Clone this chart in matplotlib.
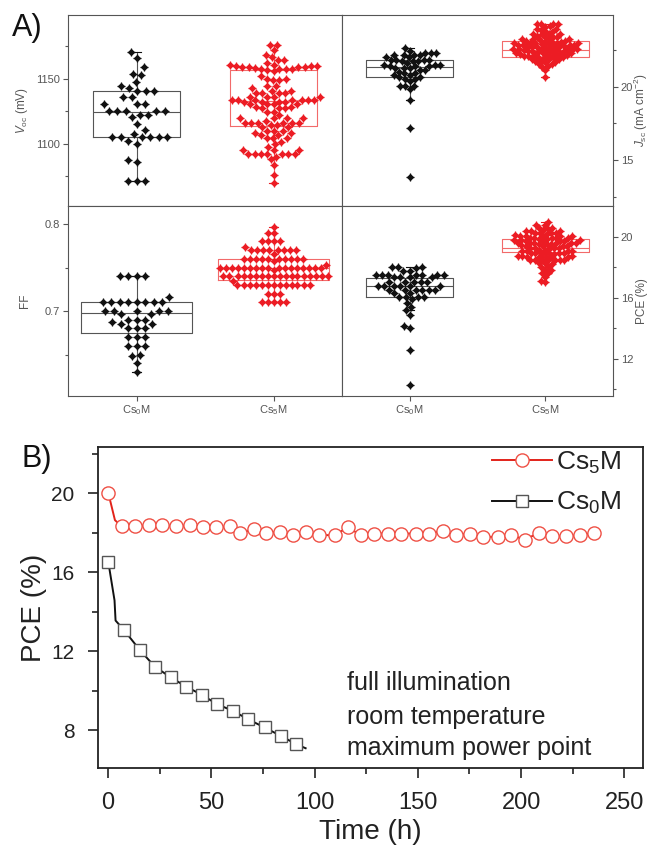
import numpy as np
import matplotlib
matplotlib.use("Agg")
import matplotlib.pyplot as plt

plt.rcParams['font.family'] = ['Liberation Sans', 'DejaVu Sans']
plt.rcParams['mathtext.fontset'] = 'custom'
plt.rcParams['mathtext.rm'] = 'Liberation Sans'
plt.rcParams['mathtext.it'] = 'Liberation Sans:italic'
plt.rcParams['mathtext.bf'] = 'Liberation Sans:bold'

# ---------------- data: panel A ----------------
groups = ["Cs$_0$M", "Cs$_5$M"]

voc_cs0 = [1171, 1166, 1159, 1154, 1153, 1147.5, 1144.6, 1142.8, 1141, 1141, 1141,
           1136, 1136, 1130.5, 1130.5, 1130.5, 1125, 1125, 1125, 1125, 1125,
           1122.6, 1122.6, 1120.5, 1115, 1111, 1107.5, 1105, 1105, 1105, 1105, 1105, 1105,
           1102, 1100, 1087.5, 1086, 1071.5, 1071.5, 1071.5]
voc_cs5 = [1176, 1176, 1172, 1168.5, 1166.7, 1164.6, 1164.6,
           1162, 1161, 1161, 1160, 1160, 1160, 1159.5, 1159, 1159, 1159, 1158.5, 1158, 1158,
           1158, 1157.5, 1157, 1156,
           1152, 1150, 1150, 1149, 1149, 1144.6, 1144.6, 1142.8, 1141, 1141,
           1139, 1139, 1139, 1139, 1136.4, 1136.4, 1136.4, 1136.4,
           1133.9, 1133.9, 1133.9, 1133.9, 1133.9, 1133.9, 1133.9,
           1132.6, 1132.6, 1132.6, 1132.6, 1130.5, 1130.5, 1130.5, 1130.5,
           1128.7, 1128.7, 1127.4, 1127.4, 1127.4, 1124.9, 1124.9, 1122.3,
           1119.7, 1119.7, 1119.7, 1119.7, 1118,
           1116.4, 1116.4, 1116.4, 1116.4, 1116.4, 1116.4,
           1114.6, 1114.6, 1112.8, 1112.8, 1110.3, 1110.3, 1110.3,
           1108.2, 1108.2, 1107, 1107, 1104.4, 1104.4, 1104.4, 1101.8, 1100, 1098,
           1095.4, 1095.4, 1095.4, 1092.3, 1092.3, 1092.3, 1092.3, 1092.3, 1092.3, 1092.3,
           1090.3, 1088.2, 1083.9, 1076.2, 1070.3]

jsc_cs0 = [22.65, 22.49, 22.35, 22.35, 22.35, 22.2, 22.2, 22.2, 22.2, 22.08, 22.08,
           21.85, 21.85, 21.85, 21.85, 21.78, 21.78, 21.78, 21.67, 21.5, 21.5, 21.5,
           21.44, 21.44, 21.44, 21.33, 21.33, 21.33, 21.17, 21.17, 21.05, 20.94, 20.94,
           20.82, 20.82, 20.66, 20.66, 20.55, 20.55, 20.41, 20.07, 20.07, 20.07, 19.84,
           19.11, 17.17, 13.86]
jsc_cs5 = [24.32, 24.3, 24.34, 24.28, 24.13, 24.15, 23.95, 23.97, 23.93, 23.79, 23.81,
           23.63, 23.65, 23.61, 23.63, 23.45, 23.47, 23.43, 23.45, 23.27, 23.29, 23.25,
           23.27, 23.3, 23.11, 23.13, 23.09, 23.11, 23.14, 23.0, 23.02, 22.98, 23.0, 23.03,
           22.97, 22.88, 22.9, 22.86, 22.88, 22.91, 22.76, 22.78, 22.74, 22.76, 22.79,
           22.73, 22.77, 22.6, 22.62, 22.58, 22.6, 22.63, 22.57, 22.61, 22.49, 22.51,
           22.47, 22.49, 22.52, 22.46, 22.35, 22.37, 22.33, 22.35, 22.38, 22.32, 22.2,
           22.22, 22.18, 22.2, 22.23, 22.08, 22.1, 22.06, 22.08, 22.11, 22.05, 21.9,
           21.92, 21.88, 21.9, 21.74, 21.76, 21.72, 21.58, 21.6, 21.39, 21.41, 21.17,
           20.66]

ff_cs0 = [0.74, 0.74, 0.74, 0.74, 0.716, 0.71, 0.71, 0.71, 0.71, 0.71, 0.71, 0.71,
          0.71, 0.70, 0.70, 0.70, 0.70, 0.70, 0.697, 0.696, 0.69, 0.69, 0.69, 0.687,
          0.685, 0.685, 0.68, 0.68, 0.68, 0.67, 0.67, 0.67, 0.66, 0.66, 0.66, 0.65,
          0.648, 0.64, 0.63]
ff_cs5 = [0.797, 0.79, 0.79, 0.78, 0.78, 0.78, 0.78, 0.773,
          0.77, 0.77, 0.77, 0.77, 0.77, 0.77, 0.77, 0.77, 0.766,
          0.76, 0.76, 0.76, 0.76, 0.76, 0.76, 0.76, 0.76, 0.76, 0.76, 0.757, 0.753,
          0.75, 0.75, 0.75, 0.75, 0.75, 0.75, 0.75, 0.75, 0.75, 0.75, 0.75, 0.75,
          0.75, 0.75, 0.75, 0.75, 0.75, 0.747,
          0.74, 0.74, 0.74, 0.74, 0.74, 0.74, 0.74, 0.74, 0.74, 0.74, 0.74, 0.74,
          0.74, 0.74, 0.74, 0.74, 0.74, 0.74, 0.735,
          0.73, 0.73, 0.73, 0.73, 0.73, 0.73, 0.73, 0.73, 0.73, 0.73, 0.73, 0.73, 0.73,
          0.72, 0.72, 0.72, 0.71, 0.71, 0.71, 0.71, 0.71]

pce_cs0 = [18.06, 18.06, 18.0, 17.95, 17.79, 17.79,
           17.51, 17.51, 17.51, 17.51, 17.51, 17.51, 17.51,
           17.35, 17.35, 17.35, 17.35, 17.07, 17.07, 17.07, 17.07, 17.07,
           16.79, 16.79, 16.79, 16.79, 16.79, 16.79, 16.52, 16.52, 16.52, 16.52, 16.52,
           16.52, 16.35, 16.35, 16.09, 16.09, 16.09, 16.09, 15.91, 15.69, 15.39, 15.21,
           14.89, 14.16, 14.01, 12.59, 10.29]
pce_cs5 = [21.0, 20.79, 20.8, 20.57, 20.59, 20.55, 20.41, 20.43, 20.39, 20.41,
           20.24, 20.26, 20.22, 20.24, 20.27, 20.07, 20.09, 20.05, 20.07, 20.1, 20.04,
           19.91, 19.93, 19.89, 19.91, 19.94, 19.88, 19.92, 19.76, 19.78, 19.74, 19.76,
           19.79, 19.73, 19.77, 19.58, 19.6, 19.56, 19.58, 19.61, 19.55, 19.59, 19.57,
           19.62, 19.41, 19.43, 19.39, 19.41, 19.44, 19.26, 19.28, 19.24, 19.26, 19.29,
           19.1, 19.12, 19.08, 19.1, 19.13, 19.07, 18.93, 18.95, 18.91, 18.93, 18.96,
           18.9, 18.94, 18.71, 18.73, 18.69, 18.71, 18.74, 18.68, 18.72, 18.7, 18.49,
           18.51, 18.47, 18.49, 18.52, 18.46, 18.5, 18.27, 18.29, 18.25, 18.05, 18.07,
           17.84, 17.86, 17.62, 17.64, 17.4, 17.07, 17.09]

# box statistics: [Cs0M, Cs5M]
voc_q1, voc_med, voc_q3 = [1105, 1114], [1124.8, 1133.3], [1140.8, 1157]
voc_lo, voc_hi = [1071.5, 1070.3], [1171, 1176]
jsc_q1, jsc_med, jsc_q3 = [20.71, 22.03], [21.39, 22.53], [21.85, 23.15]
jsc_lo, jsc_hi = [19.11, 20.66], [22.65, 24.32]
ff_q1, ff_med, ff_q3 = [0.675, 0.7356], [0.698, 0.749], [0.71, 0.760]
ff_lo, ff_hi = [0.63, 0.71], [0.74, 0.797]
pce_q1, pce_med, pce_q3 = [16.09, 19.04], [16.79, 19.26], [17.29, 19.85]
pce_lo, pce_hi = [15.21, 17.84], [18.06, 21.0]

# ---------------- data: panel B ----------------
t_cs5 = [0.2, 3.4, 6.6, 13.0, 19.8, 26.2, 32.9, 39.6, 46.0, 52.5, 58.9, 64.1, 70.5,
         76.3, 83.1, 89.5, 95.9, 102.4, 109.7, 116.1, 122.5, 129.0, 135.4, 141.9,
         149.1, 155.6, 162.3, 168.5, 175.2, 181.6, 188.6, 195.0, 201.9, 208.7, 215.1,
         221.9, 228.4, 235.3]
pce_t_cs5 = [20.0, 18.63, 18.32, 18.32, 18.37, 18.37, 18.32, 18.37, 18.26, 18.26, 18.32,
             17.99, 18.16, 17.98, 18.04, 17.87, 18.04, 17.87, 17.87, 18.26, 17.87, 17.95,
             17.95, 17.95, 17.95, 17.95, 18.09, 17.87, 17.95, 17.78, 17.78, 17.87, 17.65,
             17.99, 17.82, 17.82, 17.87, 17.99]
t_cs0 = [0.2, 3.2, 3.7, 7.7, 15.5, 22.7, 30.3, 38.0, 45.3, 52.8, 60.5, 67.8, 75.8,
         83.6, 91.2, 95.7]
pce_t_cs0 = [16.51, 14.57, 13.55, 13.08, 12.05, 11.22, 10.68, 10.2, 9.8, 9.32, 8.98,
             8.56, 8.14, 7.72, 7.29, 7.09]
series_labels = ["Cs$_5$M", "Cs$_0$M"]
notes = ["full illumination", "room temperature", "maximum power point"]

# ---------------- figure ----------------
W, H = 650, 848
fig = plt.figure(figsize=(W / 100, H / 100), dpi=100)
GRAY = '#555555'
BLACK = '#111111'
RED = '#ec1c24'
RED_BOX = '#f26a6a'


def beeswarm(ax, x0, vals, d):
    pts = ax.transData.transform(np.column_stack([np.full(len(vals), x0), vals]))
    ypx = pts[:, 1]
    xs = np.zeros(len(vals))
    placed = []
    for i in np.argsort(ypx):
        y = ypx[i]
        nb = [(px, py) for px, py in placed if abs(py - y) < d]
        cands = [0.0]
        for px, py in nb:
            dx = np.sqrt(d * d - (py - y) ** 2)
            cands += [px + dx, px - dx]
        cands = sorted(cands, key=lambda c: (abs(c), c))
        for c in cands:
            if all((c - px) ** 2 + (y - py) ** 2 >= d * d - 1e-6 for px, py in nb):
                xs[i] = c
                break
        placed.append((xs[i], y))
    sx = ax.transData.transform((1, 0))[0] - ax.transData.transform((0, 0))[0]
    return x0 + xs / sx


def panel(rect, ylim, vals, q1, med, q3, lo, hi, boxw, major, minor, ylabel, dists,
          labelx, right=False, bottom=False):
    ax = fig.add_axes(rect)
    ax.set_xlim(0.5, 2.5)
    ax.set_ylim(*ylim)
    for s in ax.spines.values():
        s.set_color(GRAY)
        s.set_linewidth(0.8)
    cols = [(BLACK, GRAY), (RED, RED_BOX)]
    for k in range(2):
        mc, bc = cols[k]
        st = [dict(med=med[k], q1=q1[k], q3=q3[k], whislo=lo[k], whishi=hi[k], fliers=[])]
        ax.bxp(st, positions=[k + 1], widths=boxw, showfliers=False, capwidths=0.06,
               boxprops=dict(color=bc, lw=0.8), whiskerprops=dict(color=bc, lw=0.8),
               capprops=dict(color=mc, lw=0.8), medianprops=dict(color=bc, lw=0.8),
               manage_ticks=False, zorder=1)
        xs = beeswarm(ax, k + 1, vals[k], dists[k])
        ax.scatter(xs, vals[k], s=15, marker='D', color=mc, lw=0, zorder=3)
        ax.scatter(xs, vals[k], s=26, marker='+', color=mc, lw=0.9, zorder=3)
    ax.set_xticks([1, 2])
    if bottom:
        ax.set_xticklabels(groups)
    else:
        ax.set_xticklabels([])
    ax.set_yticks(major)
    ax.set_yticks(minor, minor=True)
    ax.tick_params(which='both', direction='out', colors=GRAY, labelsize=8,
                   width=0.8, pad=2)
    ax.tick_params(which='major', length=3.5)
    ax.tick_params(which='minor', length=2.5)
    if right:
        ax.yaxis.tick_right()
        ax.yaxis.set_label_position('right')
    ax.set_ylabel(ylabel, fontsize=8.5, color=GRAY)
    ax.yaxis.set_label_coords(labelx, 0.5)
    ax.yaxis.label.set_va('center')
    return ax


xl, xm, xr = 68, 342, 613
yt, ym, yb = 15, 206, 396
r_tl = [xl / W, 1 - ym / H, (xm - xl) / W, (ym - yt) / H]
r_tr = [xm / W, 1 - ym / H, (xr - xm) / W, (ym - yt) / H]
r_bl = [xl / W, 1 - yb / H, (xm - xl) / W, (yb - ym) / H]
r_br = [xm / W, 1 - yb / H, (xr - xm) / W, (yb - ym) / H]

panel(r_tl, (1052.3, 1199.2), [voc_cs0, voc_cs5], voc_q1, voc_med, voc_q3, voc_lo, voc_hi,
      0.64, [1100, 1150], [1075, 1125, 1175], '$V_\\mathrm{oc}$ (mV)', (8.5, 6.3),
      (22.5 - xl) / (xm - xl))
panel(r_tr, (11.85, 24.93), [jsc_cs0, jsc_cs5], jsc_q1, jsc_med, jsc_q3, jsc_lo, jsc_hi,
      0.64, [15, 20], [12.5, 17.5, 22.5], '$J_\\mathrm{sc}$ (mA cm$^{-2}$)', (5.6, 4.4),
      (641 - xm) / (xr - xm), right=True)
panel(r_bl, (0.6023, 0.8207), [ff_cs0, ff_cs5], ff_q1, ff_med, ff_q3, ff_lo, ff_hi,
      0.81, [0.7, 0.8], [0.65, 0.75], 'FF', (8.5, 6.0), (25 - xl) / (xm - xl),
      bottom=True)
panel(r_br, (9.57, 22.03), [pce_cs0, pce_cs5], pce_q1, pce_med, pce_q3, pce_lo, pce_hi,
      0.64, [12, 16, 20], [10, 14, 18], 'PCE (%)', (6.3, 4.6), (642 - xm) / (xr - xm),
      right=True, bottom=True)

fig.text(12 / W, 1 - 13 / H, 'A)', fontsize=22, ha='left', va='top', color='#111111')
fig.text(22 / W, 1 - 444 / H, 'B)', fontsize=22, ha='left', va='top', color='#111111')

# ---------------- panel B ----------------
axB = fig.add_axes([98 / W, 1 - 768 / H, 545 / W, 321 / H])
DARK = '#222222'
m5 = [i for i in range(len(t_cs5)) if i != 1]
m0 = [i for i in range(len(t_cs0)) if i not in (1, 2, len(t_cs0) - 1)]
axB.plot(t_cs5, pce_t_cs5, color='#e2231a', lw=1.4, marker='o', ms=9.5, mfc='white',
         mec='#ef5045', mew=1.0, markevery=m5, label=series_labels[0], zorder=3)
axB.plot(t_cs0, pce_t_cs0, color=BLACK, lw=1.4, marker='s', ms=8.5, mfc='white',
         mec='#555555', mew=1.0, markevery=m0, label=series_labels[1], zorder=3)
axB.set_xlim(-4.8, 259)
axB.set_ylim(6.09, 22.33)
axB.set_xticks([0, 50, 100, 150, 200, 250])
axB.set_xticks([25, 75, 125, 175, 225], minor=True)
axB.set_yticks([8, 12, 16, 20])
axB.set_yticks([10, 14, 18, 22], minor=True)
for s in axB.spines.values():
    s.set_color(DARK)
    s.set_linewidth(1.3)
axB.tick_params(which='both', direction='out', colors=DARK, width=1.2)
axB.tick_params(which='major', length=7)
axB.tick_params(which='minor', length=4.5)
axB.tick_params(axis='x', labelsize=17, pad=10)
axB.tick_params(axis='y', labelsize=15, pad=10)
axB.set_xlabel('Time (h)', fontsize=20, color=DARK, labelpad=4)
axB.set_ylabel('PCE (%)', fontsize=20, color=DARK, labelpad=3)
leg = axB.legend(loc='upper right', bbox_to_anchor=(0.98, 1.025), frameon=False,
                 fontsize=19, numpoints=1, handlelength=2.3, handletextpad=0.15,
                 labelspacing=0.55, borderaxespad=0.0)
for tx in leg.get_texts():
    tx.set_color(DARK)
for k, s in enumerate(notes):
    axB.text(0.457, [0.265, 0.159, 0.062][k], s, transform=axB.transAxes, fontsize=18,
             color=DARK, ha='left', va='center')

fig.savefig('out.png', dpi=100)
